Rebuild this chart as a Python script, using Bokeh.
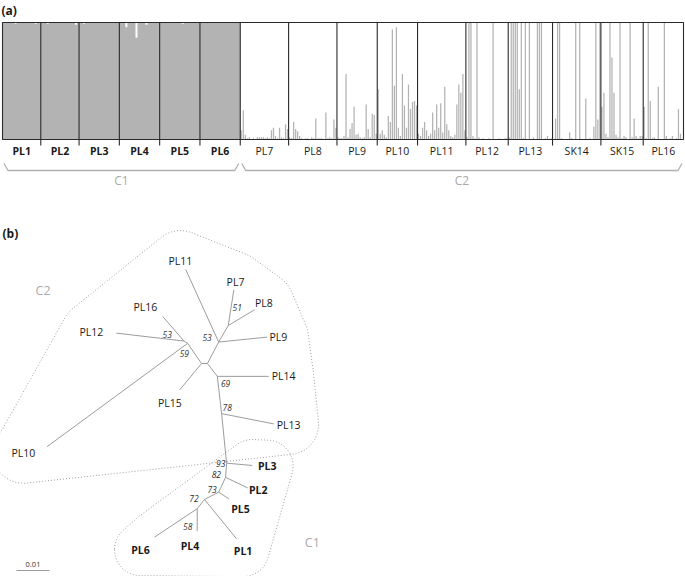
import numpy as np
from bokeh.plotting import figure
from bokeh.layouts import column
from bokeh.models import Range1d
from bokeh.core.properties import value
from bokeh.embed import file_html
from bokeh.resources import INLINE

# ======================= DATA : panel (a) =======================
pop_names = ["PL1", "PL2", "PL3", "PL4", "PL5", "PL6", "PL7", "PL8", "PL9",
             "PL10", "PL11", "PL12", "PL13", "SK14", "SK15", "PL16"]
pop_group = ["C1", "C1", "C1", "C1", "C1", "C1", "C2", "C2", "C2", "C2",
             "C2", "C2", "C2", "C2", "C2", "C2"]
group_names = ["C1", "C2"]

# membership (grey cluster) of every individual, per population
q_PL1 = [1.0, 1.0, 1.0, 1.0, 1.0, 1.0, 0.99, 1.0, 1.0, 1.0, 1.0, 1.0, 1.0, 1.0, 1.0, 1.0, 0.99, 1.0, 1.0]
q_PL2 = [1.0, 1.0, 1.0, 0.99, 1.0, 1.0, 1.0, 1.0, 1.0, 1.0, 1.0, 1.0, 1.0, 1.0, 1.0, 1.0, 1.0, 0.98, 1.0]
q_PL3 = [1.0, 1.0, 0.99, 1.0, 1.0, 1.0, 1.0, 1.0, 1.0, 1.0, 1.0, 1.0, 1.0, 1.0, 1.0, 1.0, 1.0, 1.0, 1.0, 1.0]
q_PL4 = [1.0, 1.0, 1.0, 0.96, 1.0, 1.0, 1.0, 1.0, 0.87, 1.0, 1.0, 1.0, 1.0, 0.98, 1.0, 1.0, 1.0, 1.0, 1.0, 1.0]
q_PL5 = [1.0, 1.0, 1.0, 1.0, 1.0, 1.0, 1.0, 1.0, 1.0, 1.0, 1.0, 0.99, 1.0, 1.0, 1.0, 1.0, 1.0, 1.0, 1.0, 1.0]
q_PL6 = [1.0, 1.0, 1.0, 1.0, 1.0, 1.0, 1.0, 1.0, 1.0, 1.0, 1.0, 1.0, 1.0, 1.0, 1.0, 1.0, 1.0, 1.0, 1.0, 1.0]
q_PL7 = [0.08, 0.25, 0.04, 0.01, 0.02, 0.0, 0.01, 0.0, 0.02, 0.02, 0.02, 0.02, 0.01, 0.02, 0.01, 0.08,
         0.10, 0.03, 0.01, 0.10, 0.02, 0.01, 0.13, 0.09]
q_PL8 = [0.02, 0.01, 0.15, 0.09, 0.07, 0.03, 0.01, 0.0, 0.01, 0.01, 0.0, 0.02, 0.01, 0.18, 0.01, 0.01,
         0.01, 0.0, 0.23, 0.01, 0.02, 0.01, 0.17, 0.10]
q_PL9 = [0.02, 0.01, 0.01, 0.03, 0.56, 0.02, 0.09, 0.14, 0.28, 0.04, 0.05, 0.02, 0.01, 0.02, 0.30, 0.09,
         0.02, 0.22, 0.21, 0.05]
q_PL10 = [0.43, 0.05, 0.08, 0.04, 0.02, 0.20, 0.15, 0.94, 0.46, 0.96, 0.10, 0.03, 0.56, 0.29, 0.10, 0.47,
          0.26, 0.32, 0.33, 0.29]
q_PL11 = [0.05, 0.03, 0.10, 0.15, 0.08, 0.03, 0.05, 0.23, 0.08, 0.30, 0.10, 0.31, 0.06, 0.45, 0.13, 0.08,
          0.03, 0.02, 0.04, 0.30, 0.47, 0.40, 0.56, 0.08]
q_PL12 = [0.02, 1.0, 1.0, 0.03, 0.01, 1.0, 0.02, 0.0, 0.01, 0.0, 0.0, 0.01, 0.0, 1.0, 0.0, 0.0, 0.01, 0.0,
          0.0, 0.01, 0.01]
q_PL13 = [0.02, 1.0, 1.0, 1.0, 1.0, 0.43, 1.0, 0.01, 1.0, 0.0, 1.0, 0.0, 0.02, 0.0, 1.0, 1.0, 1.0, 0.0,
          0.01, 0.03, 0.0, 0.01]
q_SK14 = [0.0, 0.18, 1.0, 1.0, 0.01, 0.0, 0.0, 0.0, 0.06, 0.01, 0.0, 1.0, 0.0, 1.0, 0.0, 0.0, 0.35, 0.0,
          0.01, 0.0, 0.11, 1.0, 0.17, 1.0]
q_SK15 = [0.28, 0.40, 0.05, 0.02, 1.0, 0.70, 0.40, 0.04, 0.02, 1.0, 0.01, 0.03, 0.02, 0.0, 1.0, 0.02, 0.18,
          0.03, 0.01, 0.03, 0.03]
q_PL16 = [0.28, 0.01, 1.0, 0.33, 0.01, 0.02, 0.0, 0.45, 0.0, 0.0, 1.0, 0.03, 0.0, 0.01, 0.03, 0.0, 0.01,
          0.26, 0.05, 0.0]
membership = [q_PL1, q_PL2, q_PL3, q_PL4, q_PL5, q_PL6, q_PL7, q_PL8, q_PL9, q_PL10,
              q_PL11, q_PL12, q_PL13, q_SK14, q_SK15, q_PL16]

# ======================= DATA : panel (b) =======================
# node coordinates of the unrooted NJ tree, in substitutions/site
node_names = ["n1", "n2", "nA", "nB", "nE", "nG", "nF", "nH", "nI", "nJ", "nK", "nL", "nM"]
node_x = [0.0, 0.0018, 0.0052, 0.0081, -0.0042, -0.0053, 0.0048, 0.0061, 0.0076, 0.0073, 0.0052, 0.0009, -0.0013]
node_y = [0.0, 0.0, 0.0065, 0.0115, 0.0061, 0.0068, -0.0039, -0.0152, -0.0302, -0.0345, -0.0390, -0.0412, -0.0440]

tip_names = ["PL1", "PL2", "PL3", "PL4", "PL5", "PL6", "PL7", "PL8", "PL9", "PL10",
             "PL11", "PL12", "PL13", "PL14", "PL15", "PL16"]
tip_group = ["C1", "C1", "C1", "C1", "C1", "C1", "C2", "C2", "C2", "C2",
             "C2", "C2", "C2", "C2", "C2", "C2"]
tip_x = [0.0106, 0.0140, 0.0154, -0.0013, 0.0083, -0.0142, 0.0098, 0.0161, 0.0199, -0.0468,
         -0.0048, -0.0258, 0.0219, 0.0204, -0.0066, -0.0117]
tip_y = [-0.0531, -0.0377, -0.0309, -0.0508, -0.0410, -0.0526, 0.0223, 0.0163, 0.0080, -0.0252,
         0.0285, 0.0092, -0.0183, -0.0039, -0.0080, 0.0142]
tip_label_x = [0.0126, 0.0172, 0.0199, -0.0035, 0.0118, -0.0185, 0.0103, 0.0189, 0.0233, -0.0540,
               -0.0064, -0.0334, 0.0264, 0.0249, -0.0096, -0.0170]
tip_label_y = [-0.0567, -0.0382, -0.0311, -0.0552, -0.0442, -0.0564, 0.0246, 0.0183, 0.0079, -0.0272,
               0.0312, 0.0095, -0.0185, -0.0039, -0.0120, 0.0171]

edge_from = ["n1", "n2", "nA", "nB", "nB", "nA", "nA", "n1", "nE", "nG", "nG", "nE", "n1", "n2",
             "nF", "nF", "nH", "nH", "nI", "nI", "nJ", "nJ", "nK", "nK", "nL", "nL", "nM", "nM"]
edge_to = ["n2", "nA", "nB", "PL7", "PL8", "PL11", "PL9", "nE", "nG", "PL16", "PL12", "PL10", "PL15", "nF",
           "PL14", "nH", "PL13", "nI", "PL3", "nJ", "PL2", "nK", "PL5", "nL", "PL1", "nM", "PL4", "PL6"]

support_value = ["53", "51", "53", "59", "69", "78", "93", "82", "73", "72", "58"]
support_x = [0.0017, 0.0108, -0.0104, -0.0052, 0.0073, 0.0078, 0.0058, 0.0045, 0.0032, -0.0023, -0.0042]
support_y = [0.0080, 0.0170, 0.0087, 0.0031, -0.0062, -0.0134, -0.0302, -0.0336, -0.0383, -0.0410, -0.0494]

cluster_label_x = [0.0336, -0.0480]
cluster_label_y = [-0.0542, 0.0221]
scale_bar_length = 0.01

# ======================= STYLE / LAYOUT =======================
FONT = value("Open Sans")
W = 685
HA, HB = 200, 376
GREY_BAR = "#b3b3b3"
LINE_DARK = "#2a2a2a"
BRANCH = "#9c9c9c"
CLUSTER_GREY = "#a9a9a9"
TXT = "#1a1a1a"

# ----------------------- panel (a) -----------------------
counts = np.array([len(q) for q in membership])
ends = np.cumsum(counts)
starts = ends - counts
n_total = int(ends[-1])
px_x = 681.0 / n_total          # px per individual
px_y = 117.0                    # px per unit membership
top_pad = 22.0
bot_pad = HA - top_pad - px_y

pa = figure(width=W, height=HA, output_backend="svg", toolbar_location=None,
            x_range=Range1d(-2.0 / px_x, n_total + 2.0 / px_x),
            y_range=Range1d(-bot_pad / px_y, 1 + top_pad / px_y),
            x_axis_location=None, y_axis_location=None, min_border=0,
            outline_line_color=None, background_fill_color="white", border_fill_color="white")
pa.grid.visible = False

# C1 populations: one continuous stepped area (no seams between adjacent bars)
for i, q in enumerate(membership):
    if pop_group[i] == "C1":
        xs = [starts[i] + j for j in range(len(q) + 1)]
        ys = list(q) + [q[-1]]
        pa.varea_step(x=xs, y1=[0] * len(xs), y2=ys, step_mode="after", fill_color=GREY_BAR)

# C2 populations: thin individual bars
xs, tops = [], []
for i, q in enumerate(membership):
    if pop_group[i] == "C2":
        for j, v in enumerate(q):
            xs.append(starts[i] + j + 0.5)
            tops.append(v)
pa.vbar(x=xs, top=tops, bottom=0, width=0.62, fill_color=GREY_BAR, line_color=None)

# frame and population boundaries
pa.quad(left=[0], right=[n_total], bottom=[0], top=[1], fill_color=None,
        line_color=LINE_DARK, line_width=1.1)
bnd = ends[:-1]
pa.segment(x0=bnd, y0=-6 / px_y, x1=bnd, y1=1, line_color=LINE_DARK, line_width=1.1)

centers = (starts + ends) / 2.0
for grp, style in (("C1", "bold"), ("C2", "normal")):
    idx = [i for i in range(len(pop_names)) if pop_group[i] == grp]
    pa.text(x=[centers[i] for i in idx], y=-11.5 / px_y, text=[pop_names[i] for i in idx],
            text_font=FONT, text_font_size="10.5px", text_font_style=style,
            text_align="center", text_baseline="middle", text_color=TXT)

# group braces
bx, by, gx = [], [], []
for g in group_names:
    idx = [i for i in range(len(pop_names)) if pop_group[i] == g]
    gs, ge = starts[idx[0]], ends[idx[-1]]
    d1, d2 = 1.5 / px_x, 4.0 / px_x
    bx.append([gs + d1, gs + d1 + d2, ge - d1 - d2, ge - d1])
    by.append([-24 / px_y, -31 / px_y, -31 / px_y, -24 / px_y])
    gx.append((gs + ge) / 2.0)
pa.multi_line(xs=bx, ys=by, line_color="#b0b0b0", line_width=1.3)
pa.text(x=gx, y=-40.5 / px_y, text=group_names, text_font=FONT, text_font_size="12px",
        text_align="center", text_baseline="middle", text_color=CLUSTER_GREY)
pa.text(x=[-1.0 / px_x], y=[1 + 12 / px_y], text=["(a)"], text_font=FONT, text_font_size="12px",
        text_font_style="bold", text_align="left", text_baseline="middle", text_color=TXT)

# ----------------------- panel (b) -----------------------
S = 3300.0                     # px per substitution unit (0.01 = 33 px)
x0b = -201.0 / S
ytop = 163.0 / S
pb = figure(width=W, height=HB, output_backend="svg", toolbar_location=None,
            x_range=Range1d(x0b, x0b + W / S), y_range=Range1d(ytop - HB / S, ytop),
            x_axis_location=None, y_axis_location=None, min_border=0,
            outline_line_color=None, background_fill_color="white", border_fill_color="white")
pb.grid.visible = False

pos = {n: (x, y) for n, x, y in zip(node_names, node_x, node_y)}
pos.update({n: (x, y) for n, x, y in zip(tip_names, tip_x, tip_y)})


def rounded_hull(xs, ys, r, n=48):
    pts = set()
    for x, y in zip(xs, ys):
        for k in range(n):
            a = 2 * np.pi * k / n
            pts.add((round(x + r * np.cos(a), 7), round(y + r * np.sin(a), 7)))
    pts = sorted(pts)

    def cross(o, a, b):
        return (a[0] - o[0]) * (b[1] - o[1]) - (a[1] - o[1]) * (b[0] - o[0])
    lower, upper = [], []
    for p_ in pts:
        while len(lower) >= 2 and cross(lower[-2], lower[-1], p_) <= 0:
            lower.pop()
        lower.append(p_)
    for p_ in reversed(pts):
        while len(upper) >= 2 and cross(upper[-2], upper[-1], p_) <= 0:
            upper.pop()
        upper.append(p_)
    hull = lower[:-1] + upper[:-1]
    hull.append(hull[0])
    return [h[0] for h in hull], [h[1] for h in hull]


for g, rad in (("C2", 30.0), ("C1", 26.0)):
    ix = [i for i in range(len(tip_names)) if tip_group[i] == g]
    hx, hy = rounded_hull([tip_label_x[i] for i in ix] + [tip_x[i] for i in ix],
                          [tip_label_y[i] for i in ix] + [tip_y[i] for i in ix], rad / S)
    pb.line(hx, hy, line_color="#a0a0a0", line_width=1.0, line_dash="1 2")

pb.segment(x0=[pos[a][0] for a in edge_from], y0=[pos[a][1] for a in edge_from],
           x1=[pos[b][0] for b in edge_to], y1=[pos[b][1] for b in edge_to],
           line_color=BRANCH, line_width=1.0)

for grp, style in (("C1", "bold"), ("C2", "normal")):
    ix = [i for i in range(len(tip_names)) if tip_group[i] == grp]
    pb.text(x=[tip_label_x[i] for i in ix], y=[tip_label_y[i] for i in ix],
            text=[tip_names[i] for i in ix], text_font=FONT, text_font_size="10.5px",
            text_font_style=style, text_align="center", text_baseline="middle", text_color=TXT)

pb.text(x=support_x, y=support_y, text=support_value, text_font=FONT, text_font_size="8.5px",
        text_font_style="italic", text_align="center", text_baseline="middle", text_color="#333333")

pb.text(x=cluster_label_x, y=cluster_label_y, text=group_names, text_font=FONT,
        text_font_size="12.5px", text_align="center", text_baseline="middle", text_color=CLUSTER_GREY)

pb.text(x=[x0b + 2.0 / S], y=[ytop - 33.0 / S], text=["(b)"], text_font=FONT, text_font_size="12px",
        text_font_style="bold", text_align="left", text_baseline="middle", text_color=TXT)

sb_x = x0b + 16.0 / S
sb_y = ytop - 370.0 / S
pb.segment(x0=[sb_x], y0=[sb_y], x1=[sb_x + scale_bar_length], y1=[sb_y], line_color=BRANCH, line_width=1.2)
pb.text(x=[sb_x + scale_bar_length / 2], y=[sb_y + 4.0 / S], text=["%g" % scale_bar_length],
        text_font=FONT, text_font_size="7.5px", text_align="center", text_baseline="bottom",
        text_color="#333333")

layout = column(pa, pb, spacing=0)
open("out.html", "w").write(file_html(layout, INLINE))
